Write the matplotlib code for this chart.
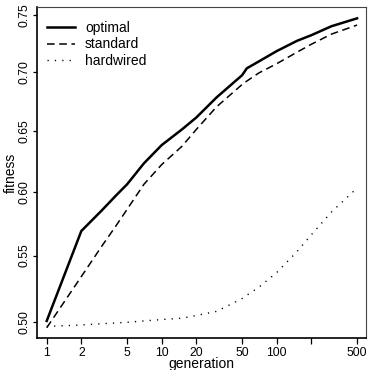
import matplotlib
matplotlib.use("Agg")
import matplotlib.pyplot as plt
import numpy as np

plt.rcParams["font.family"] = ["Liberation Sans", "DejaVu Sans"]

# values (fitness per generation)
gens = [1, 2, 3, 4, 5, 7, 10, 15, 20, 30, 50, 55, 70, 100, 150, 200, 300, 500]
optimal = [0.501, 0.569, 0.585, 0.597, 0.606, 0.623, 0.638, 0.651, 0.661, 0.678,
           0.697, 0.703, 0.709, 0.718, 0.727, 0.732, 0.740, 0.747]
standard = [0.496, 0.534, 0.557, 0.573, 0.586, 0.606, 0.622, 0.637, 0.651, 0.670,
            0.689, 0.692, 0.699, 0.707, 0.717, 0.724, 0.733, 0.741]
hardwired = [0.497, 0.498, 0.499, 0.4995, 0.500, 0.501, 0.502, 0.503, 0.505, 0.508,
             0.5175, 0.520, 0.526, 0.537, 0.553, 0.566, 0.584, 0.603]

xticks = [1, 2, 5, 10, 20, 50, 100, 200, 500]
xlabels = ["1", "2", "5", "10", "20", "50", "100", "", "500"]
yticks = [0.50, 0.55, 0.60, 0.65, 0.70, 0.75]

fig = plt.figure(figsize=(3.69, 3.70), dpi=100)
ax = fig.add_axes([36.5 / 369, (370 - 338.3) / 370, (366 - 36.5) / 369, (338.3 - 6.7) / 370])

ax.plot(gens, optimal, color="black", lw=1.8, solid_joinstyle="round", label="optimal")
ax.plot(gens, standard, color="black", lw=1.1, dashes=(5.0, 3.0), label="standard")
ax.plot(gens, hardwired, color="black", lw=1.0, dashes=(0.9, 4.4), label="hardwired")

ax.set_xscale("log")
ax.set_yscale("function", functions=(lambda v: np.sqrt(np.clip(v, 0, None)), np.square))
ax.set_xlim(0.815, 598)
ax.set_ylim(0.48836, 0.75745)

ax.set_xticks(xticks)
ax.set_xticklabels(xlabels)
ax.xaxis.set_minor_locator(matplotlib.ticker.NullLocator())
ax.set_yticks(yticks)
ax.set_yticklabels(["%.2f" % v for v in yticks])
ax.yaxis.set_minor_locator(matplotlib.ticker.NullLocator())
for lab in ax.get_yticklabels():
    lab.set_rotation(90)
    lab.set_va("center")

ax.tick_params(axis="x", length=4.5, width=0.9, pad=1.5, labelsize=8.7)
ax.tick_params(axis="y", length=3.0, width=0.9, pad=1.5, labelsize=8.7)

for s in ax.spines.values():
    s.set_color("#444444")
    s.set_linewidth(0.8)
for s in ("left", "bottom"):
    ax.spines[s].set_color("black")
    ax.spines[s].set_linewidth(1.2)

ax.set_xlabel("generation", fontsize=10, labelpad=-1)
ax.set_ylabel("fitness", fontsize=10, labelpad=0)

ax.legend(loc="upper left", bbox_to_anchor=(-0.009, 1.0), frameon=False, fontsize=10,
          handlelength=1.95, handletextpad=0.76, labelspacing=0.2, borderaxespad=0.6)

fig.savefig("out.png", dpi=100, facecolor="white")
